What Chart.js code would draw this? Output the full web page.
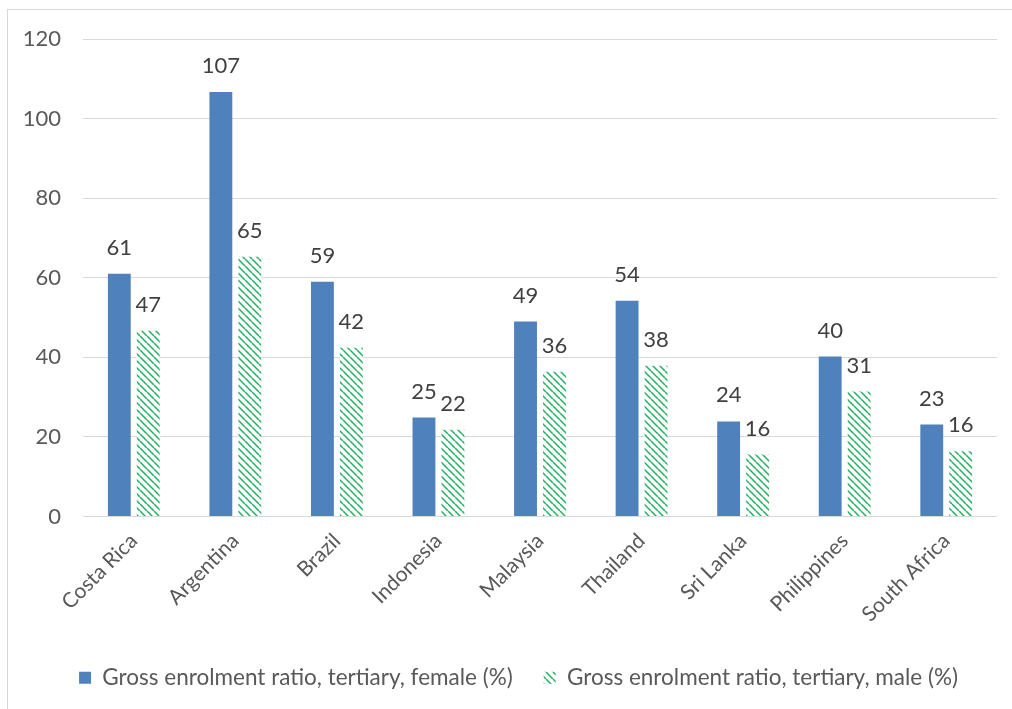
<!DOCTYPE html>
<html>
<head>
<meta charset="utf-8">
<script src="https://cdn.jsdelivr.net/npm/chart.js@4/dist/chart.umd.min.js"></script>
<style>
  html, body { margin: 0; padding: 0; background: #fff; overflow: hidden; }
  #wrap { position: relative; width: 1012px; height: 709px; }
  #frame {
    position: absolute; left: 7px; top: 9px; width: 1012px; height: 709px;
    border: 1px solid #d9d9d9; box-sizing: border-box; pointer-events: none;
  }
  canvas { position: absolute; left: 0; top: 0; }
</style>
</head>
<body>
<div id="wrap">
  <canvas id="chart" width="1012" height="709"></canvas>
  <div id="frame"></div>
</div>
<script>
const categories = ["Costa Rica", "Argentina", "Brazil", "Indonesia", "Malaysia", "Thailand", "Sri Lanka", "Philippines", "South Africa"];
const femaleValues = [61.0, 106.7, 59.0, 24.9, 49.0, 54.2, 23.9, 40.2, 23.1];
const maleValues = [46.7, 65.3, 42.4, 21.8, 36.4, 37.9, 15.6, 31.4, 16.4];
const seriesNames = [
  "Gross enrolment ratio, tertiary, female (%)",
  "Gross enrolment ratio, tertiary, male (%)",
];
const yTicks = [0, 20, 40, 60, 80, 100, 120];

const FONT = "Lato, 'Open Sans', sans-serif";

// green downward-diagonal hatch, like the Excel pattern fill
function makeHatch() {
  const c = document.createElement("canvas");
  c.width = 7;
  c.height = 7;
  const g = c.getContext("2d");
  g.fillStyle = "#fff";
  g.fillRect(0, 0, 7, 7);
  g.strokeStyle = "#20b060";
  g.lineWidth = 1.5;
  for (const off of [-7, 0, 7]) {
    g.beginPath();
    g.moveTo(off, 0);
    g.lineTo(off + 7, 7);
    g.stroke();
  }
  return g.createPattern(c, "repeat");
}
const hatch = makeHatch();

const valueLabels = {
  id: "valueLabels",
  afterDatasetsDraw(chart) {
    const ctx = chart.ctx;
    ctx.save();
    ctx.font = `22px ${FONT}`;
    ctx.fillStyle = "#404040";
    ctx.textAlign = "center";
    ctx.textBaseline = "middle";
    chart.data.datasets.forEach((ds, i) => {
      chart.getDatasetMeta(i).data.forEach((bar, j) => {
        ctx.fillText(String(Math.round(ds.data[j])), bar.x, bar.y - 26);
      });
    });
    ctx.restore();
  },
};

// the legend in the original sits a bit right of the plot centre
const legendShift = {
  id: "legendShift",
  afterLayout(chart) {
    if (chart.legend) chart.legend.left += 40;
  },
};

new Chart(document.getElementById("chart"), {
  type: "bar",
  data: {
    labels: categories,
    datasets: [
      {
        label: seriesNames[0],
        data: femaleValues,
        backgroundColor: "#4f81bd",
        categoryPercentage: 0.57,
        barPercentage: 0.79,
      },
      {
        label: seriesNames[1],
        data: maleValues,
        backgroundColor: hatch,
        categoryPercentage: 0.57,
        barPercentage: 0.79,
      },
    ],
  },
  options: {
    responsive: false,
    animation: false,
    layout: { padding: { top: 39, right: 15, bottom: 10, left: 0 } },
    plugins: {
      legend: {
        position: "bottom",
        labels: {
          color: "#595959",
          font: { family: FONT, size: 22.5 },
          boxWidth: 12,
          boxHeight: 12,
          padding: 31,
        },
      },
      tooltip: { enabled: false },
    },
    scales: {
      x: {
        grid: { display: false },
        border: { display: false },
        ticks: {
          color: "#595959",
          font: { family: FONT, size: 21 },
          minRotation: 45,
          maxRotation: 45,
          padding: 4,
        },
        afterFit: (s) => { s.height = 119; },
      },
      y: {
        min: 0,
        max: 120,
        afterBuildTicks: (s) => { s.ticks = yTicks.map((v) => ({ value: v })); },
        grid: { color: "#d9d9d9", lineWidth: 1, drawTicks: false },
        border: { display: false },
        ticks: {
          color: "#595959",
          font: { family: FONT, size: 22 },
          padding: 22,
        },
        afterFit: (s) => { s.width = 83; },
      },
    },
  },
  plugins: [valueLabels, legendShift],
});
</script>
</body>
</html>
